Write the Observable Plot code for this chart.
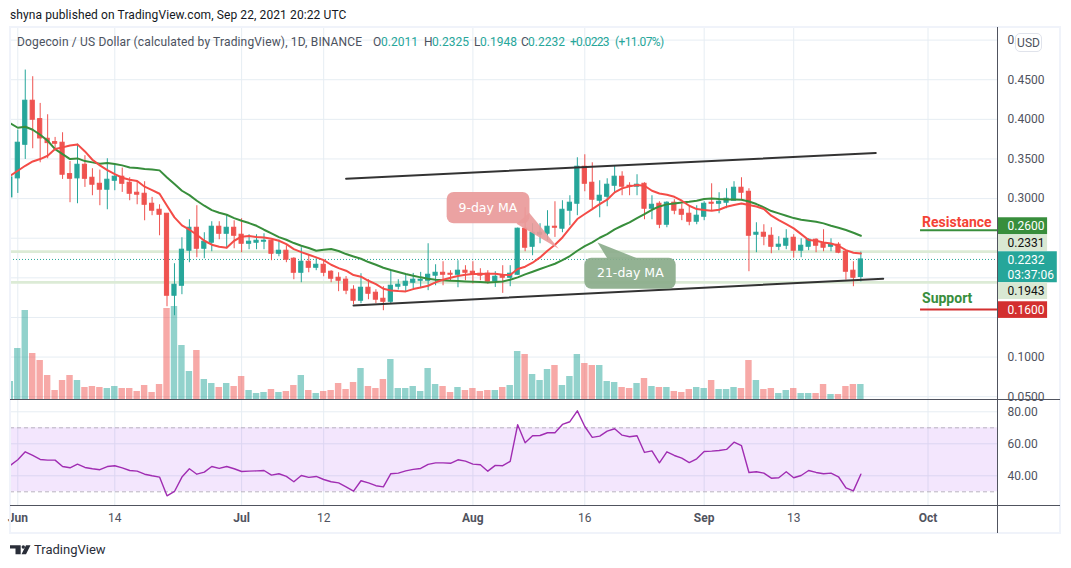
<!DOCTYPE html>
<html><head><meta charset="utf-8">
<script src="https://cdn.jsdelivr.net/npm/d3@7"></script>
<script src="https://cdn.jsdelivr.net/npm/@observablehq/plot@0.6"></script>
<style>
html,body{margin:0;padding:0;background:#fff;overflow:hidden}
#wrap{position:relative;width:1071px;height:568px;font-family:Roboto,sans-serif;font-size:12px}
#wrap svg{position:absolute;left:0;top:0;background:transparent;overflow:visible}
.txt{position:absolute;white-space:nowrap}
.ln{position:absolute;background:#50535e}
</style></head><body><div id="wrap"></div>
<script>
// ---- data; index 0 = 31 May 2021, one entry per day ----
const opens=[.3015,.3255,.3679,.4235,.4003,.3755,.3713,.3705,.3309,.3255,.3427,.3263,.3187,.3112,.3225,.3276,.3200,.3074,.3061,.2935,.2859,.2809,.1774,.1900,.2342,.2632,.2367,.2443,.2645,.2556,.2632,.2544,.2430,.2443,.2456,.2468,.2304,.2342,.2241,.2064,.2203,.2127,.2165,.2077,.2001,.1977,.1850,.1711,.1875,.1812,.1736,.1698,.1888,.1900,.1938,.1963,.1963,.2027,.2064,.2052,.2039,.2090,.2077,.2052,.2052,.1951,.2027,.2001,.2039,.2620,.2392,.2544,.2556,.2645,.2620,.2847,.2935,.3402,.3200,.2973,.3023,.3162,.3276,.3162,.3150,.3187,.2872,.2935,.2670,.2948,.2859,.2809,.2708,.2771,.2948,.2935,.2948,.2973,.3137,.3086,.2544,.2569,.2531,.2392,.2405,.2506,.2342,.2392,.2481,.2430,.2392,.2418,.2329,.2090,.2011];
const highs=[.3267,.3865,.4622,.4538,.4201,.4058,.3772,.3831,.3469,.3688,.3541,.3377,.3360,.3503,.3419,.3385,.3263,.3217,.3213,.3015,.2922,.2809,.2178,.2506,.2733,.2910,.2569,.2708,.2708,.2796,.2720,.2746,.2544,.2544,.2556,.2477,.2477,.2405,.2254,.2380,.2291,.2241,.2224,.2090,.2064,.2016,.1900,.2052,.1977,.1850,.1888,.2102,.1976,.2035,.2056,.2069,.2430,.2165,.2203,.2090,.2216,.2153,.2203,.2115,.2090,.2077,.2153,.2153,.2628,.2885,.2683,.2683,.2847,.2960,.2973,.3036,.3515,.3553,.3452,.3225,.3250,.3415,.3339,.3200,.3301,.3200,.3036,.2960,.2960,.2986,.2931,.2897,.2910,.2960,.3187,.3074,.3124,.3213,.3263,.3124,.2695,.2670,.2632,.2519,.2607,.2544,.2493,.2493,.2493,.2607,.2493,.2443,.2342,.2203,.2325];
const lows=[.3015,.3065,.3494,.3629,.3452,.3503,.3625,.3242,.2948,.2935,.3141,.3036,.2910,.2859,.3099,.3078,.2973,.2922,.2720,.2784,.2531,.1635,.1522,.1787,.2191,.2254,.2241,.2329,.2481,.2367,.2367,.2317,.2355,.2355,.2355,.2216,.2266,.2191,.1976,.1938,.2064,.2090,.2014,.1938,.1825,.1787,.1661,.1673,.1724,.1673,.1585,.1673,.1846,.1825,.1858,.1879,.1838,.1900,.1900,.1963,.1875,.1963,.1921,.1963,.1921,.1879,.1804,.1888,.2030,.2329,.2279,.2430,.2468,.2510,.2569,.2657,.2784,.3086,.2872,.2758,.2897,.3061,.3036,.3036,.3036,.2733,.2733,.2620,.2632,.2796,.2721,.2657,.2670,.2721,.2847,.2809,.2872,.2973,.2973,.2077,.2317,.2405,.2304,.2342,.2355,.2249,.2254,.2342,.2317,.2329,.2329,.2304,.1972,.1888,.1948];
const closes=[.3267,.3705,.4235,.3995,.3759,.3700,.3692,.3301,.3250,.3427,.3250,.3175,.3112,.3238,.3276,.3187,.3061,.3049,.2922,.2847,.2796,.1774,.1913,.2355,.2632,.2367,.2456,.2645,.2556,.2632,.2531,.2430,.2456,.2468,.2468,.2304,.2342,.2228,.2064,.2203,.2127,.2165,.2064,.1989,.1963,.1838,.1711,.1875,.1799,.1724,.1698,.1900,.1913,.1951,.1976,.1976,.2039,.2064,.2039,.2039,.2090,.2064,.2039,.2027,.1951,.2014,.2001,.2052,.2620,.2380,.2569,.2569,.2645,.2632,.2859,.2948,.3402,.3187,.2986,.3036,.3175,.3276,.3150,.3150,.3175,.2872,.2922,.2670,.2948,.2847,.2796,.2708,.2784,.2935,.2935,.2960,.2998,.3137,.3074,.2531,.2569,.2519,.2392,.2418,.2493,.2342,.2405,.2481,.2405,.2380,.2418,.2317,.2077,.2001,.2232];
const ma9=[.3288,.3351,.3414,.3469,.3499,.3541,.3625,.3646,.3671,.3684,.3595,.3490,.3419,.3360,.3309,.3263,.3238,.3221,.3150,.3107,.3061,.2910,.2763,.2662,.2607,.2544,.2468,.2418,.2393,.2380,.2468,.2519,.2527,.2514,.2510,.2493,.2468,.2426,.2363,.2325,.2291,.2258,.2224,.2165,.2123,.2090,.2035,.2014,.1963,.1921,.1862,.1841,.1833,.1829,.1858,.1879,.1900,.1942,.1976,.2001,.2022,.2039,.2048,.2048,.2052,.2052,.2039,.2035,.2111,.2140,.2191,.2258,.2342,.2418,.2510,.2628,.2742,.2805,.2868,.2931,.2986,.3078,.3129,.3154,.3171,.3162,.3099,.3065,.3049,.3023,.2973,.2910,.2868,.2855,.2847,.2859,.2897,.2918,.2939,.2918,.2901,.2868,.2784,.2729,.2678,.2624,.2552,.2477,.2468,.2447,.2434,.2405,.2350,.2317,.2308];
const ma21=[.3949,.3894,.3907,.3869,.3806,.3730,.3625,.3562,.3499,.3507,.3473,.3457,.3440,.3448,.3436,.3419,.3393,.3385,.3372,.3368,.3356,.3267,.3183,.3099,.3044,.2973,.2910,.2855,.2821,.2796,.2754,.2720,.2691,.2657,.2607,.2561,.2514,.2481,.2439,.2405,.2376,.2342,.2355,.2363,.2338,.2300,.2270,.2241,.2199,.2165,.2127,.2098,.2073,.2048,.2027,.2006,.1989,.1976,.1968,.1963,.1959,.1955,.1951,.1947,.1942,.1947,.1955,.1976,.2006,.2043,.2077,.2111,.2144,.2178,.2224,.2275,.2342,.2401,.2447,.2506,.2552,.2611,.2657,.2699,.2754,.2805,.2859,.2901,.2927,.2939,.2952,.2960,.2973,.2994,.3002,.2994,.2990,.2990,.2986,.2964,.2931,.2889,.2843,.2813,.2784,.2754,.2733,.2721,.2708,.2687,.2657,.2632,.2603,.2569,.2531];
const volumes=[18,51,89,46,39,24,9,19,24,19,12,13,12,11,13,11,11,8,14,7,15,91,93,54,28,49,20,16,12,16,13,23,9,6,7,10,7,8,14,24,9,6,8,9,16,10,17,31,13,11,20,40,11,11,13,8,31,15,13,7,12,9,11,8,9,9,12,14,48,45,25,19,30,34,14,23,45,36,34,34,18,17,12,11,16,21,13,12,12,8,7,10,12,11,19,10,10,12,11,39,19,10,11,6,9,11,6,6,6,15,5,5,13,15,15];
const rsi=[46.5,50,55,52.7,50.2,49.8,49.8,45.8,45,47.3,45.2,44.4,43.8,45.8,46.3,45,43.3,42.9,41,40,39.2,27.5,30.2,39.2,44.4,41,42.3,45.8,44.6,45.8,44.4,42.7,42.9,43.1,43.3,40.4,41.3,39.6,36.3,40.2,39,39.6,37.7,36.3,35.6,33.1,30.4,36.9,35.6,33.8,33.1,41.3,41.7,43.1,44,44.6,47.1,48.1,48.1,47.8,50,49.2,47.3,46.9,42.9,46.5,46.3,49,71.9,60.6,65,65.2,66.9,66.9,72.1,73.8,80.6,70.8,64,64.8,67.9,69.4,65.4,64.4,65,54.6,55.6,48.1,55,52.7,51,48.3,50.6,55.2,55.4,55.8,56.5,61,58.8,42.1,42.5,41.7,38.5,38.8,42.5,38.8,40.2,43.3,42.1,41.3,41.7,39.4,32.5,30.6,41];
const priceGrid=[.5,.45,.4,.35,.3,.25,.2,.15,.1,.05];
const priceLabels=[.45,.4,.35,.3,.1,.05];
const rsiTicks=[40,60,80];
const dayLabels=[["2021-06-14","14"],["2021-07-12","12"],["2021-08-16","16"],["2021-09-13","13"]];
const monthLabels=[["2021-06-01","Jun"],["2021-07-01","Jul"],["2021-08-01","Aug"],["2021-09-01","Sep"],["2021-10-01","Oct"]];
const priceLevels=[.2331,.1943];
const lastClose=.2232;
const upperChannel=[["2021-07-15",.3251],["2021-09-24",.3575]];
const lowerChannel=[["2021-07-16",.1652],["2021-09-25",.1989]];
const levelLabels=[{text:"Resistance",level:.26,ty:.2699,tc:"#f44336",lc:"#388e3c"},{text:"Support",level:.16,ty:.1745,tc:"#388e3c",lc:"#d32f2f"}];
const tags=[
 {t:.2758,b:.2544,w:6.7,fill:"#388e3c",texts:[["0.2600",.2651,"#fff"]]},
 {t:.2535,b:.2333,w:6.7,fill:"#d9e8d3",texts:[["0.2331",.2434,"#111"]]},
 {t:.2329,b:.1938,w:8.0,fill:"#26a69a",texts:[["0.2232",.2228,"#fff"],["03:37:06",.2039,"#fff"]]},
 {t:.1938,b:.1727,w:6.7,fill:"#d9e8d3",texts:[["0.1943",.1832,"#111"]]},
 {t:.1698,b:.1488,w:6.7,fill:"#d32f2f",texts:[["0.1600",.1592,"#fff"]]}];

// ---- shared scale ----
const D0=Date.UTC(2021,5,1);
const D=d=>new Date(D0+d*864e5);               // d = days since 1 June
const days=opens.map((_,i)=>i-1);
const xScale={type:"utc",domain:[D(0),D(122)],range:[17.3,927.5]};
const allTicks=[...dayLabels,...monthLabels].map(a=>new Date(a[0]));
const GRID="#e6edf3", UP="#26a69a", DOWN="#ef5350", AXIS="#50535e";
const FONT="Roboto,sans-serif";
const AX=131.33; // day of the price axis
const candles=days.map((d,i)=>({d,o:opens[i],h:highs[i],l:lows[i],c:closes[i],col:closes[i]>=opens[i]?UP:DOWN,v:volumes[i]}));
const wrap=document.getElementById("wrap");
const base={width:1071,height:568,marginLeft:10,marginRight:74,style:{fontFamily:FONT,fontSize:"12px",background:"transparent"}};
const cfg={clip:true};

// ---- price pane ----
const priceTexts=tags.flatMap(t=>t.texts.map(x=>({s:x[0],y:x[1],f:x[2]})));
const pricePlot=Plot.plot({...base,marginTop:27,marginBottom:169,
 x:{...xScale,axis:null},
 y:{domain:[.05,.5],range:[396.2,39.6],axis:null},
 marks:[
  Plot.gridX(allTicks,{stroke:GRID,strokeOpacity:1}),
  Plot.gridY(priceGrid,{stroke:GRID,strokeOpacity:1}),
  Plot.ruleY(priceLevels,{stroke:"#dcebd6",strokeWidth:2.6}),
  Plot.ruleY([lastClose],{stroke:UP,strokeDasharray:"1 2",strokeWidth:1}),
  Plot.axisY(priceLabels,{anchor:"right",tickSize:0,tickPadding:10,tickFormat:d3.format(".4f"),fill:AXIS,label:null,fontSize:12}),
  Plot.text(["0."],{x:D(AX+1.34),y:.5,fill:AXIS,textAnchor:"start",fontSize:12}),
  Plot.ruleX(candles,{x:d=>D(d.d),y1:"l",y2:"h",stroke:"col",strokeWidth:1,...cfg}),
  Plot.rect(candles,{x1:d=>D(d.d-.28),x2:d=>D(d.d+.28),y1:"o",y2:"c",fill:"col",stroke:"col",strokeWidth:1,...cfg}),
  Plot.line(upperChannel,{x:d=>new Date(d[0]),y:d=>d[1],stroke:"#333",strokeWidth:2}),
  Plot.line(lowerChannel,{x:d=>new Date(d[0]),y:d=>d[1],stroke:"#333",strokeWidth:2}),
  Plot.line(ma21,{x:(_,i)=>D(i-1),y:d=>d,stroke:"#388e3c",strokeWidth:2,...cfg}),
  Plot.line(ma9,{x:(_,i)=>D(i-1),y:d=>d,stroke:"#f44c47",strokeWidth:2,...cfg}),
  // callouts
  Plot.line([[D(68.55),.2822],[D(72.5),.2367],[D(66.85),.2683]],{x:"0",y:"1",fill:"#e99a9a",stroke:null,fillOpacity:.9}),
  Plot.rect([0],{x1:D(57.55),x2:D(68.65),y1:.2683,y2:.3078,fill:"#e99a9a",rx:7,fillOpacity:.92}),
  Plot.text(["9-day MA"],{x:D(63),y:.2880,fill:"#fff",fontSize:12.5,fontFamily:"DejaVu Sans"}),
  Plot.line([[D(77.7),.2447],[D(83),.2247],[D(79),.2247]],{x:"0",y:"1",fill:"#8aab8a",stroke:null,fillOpacity:.9}),
  Plot.rect([0],{x1:D(76),x2:D(88.25),y1:.1856,y2:.2247,fill:"#8aab8a",rx:7,fillOpacity:.92}),
  Plot.text(["21-day MA"],{x:D(82.1),y:.2058,fill:"#fff",fontSize:12.5,fontFamily:"DejaVu Sans"}),
  // support / resistance
  Plot.ruleY(levelLabels,{y:"level",x1:D(121),x2:D(AX),stroke:"lc",strokeWidth:2}),
  Plot.text(levelLabels,{x:D(121.2),y:"ty",text:"text",fill:"tc",fontWeight:"bold",fontSize:14,textAnchor:"start"}),
  // price tags
  Plot.rect(tags,{x1:D(AX),x2:d=>D(AX+d.w),y1:"b",y2:"t",fill:"fill"}),
  Plot.text(priceTexts,{x:D(AX+1.34),y:"y",text:"s",fill:"f",textAnchor:"start",fontSize:12})
 ]});

// ---- volume pane ----
const volPlot=Plot.plot({...base,marginTop:300,marginBottom:169,
 x:{...xScale,axis:null},
 y:{domain:[0,100],range:[399,299],axis:null},
 marks:[Plot.rect(candles,{x1:d=>D(d.d-.43),x2:d=>D(d.d+.43),y1:0,y2:"v",fill:"col",fillOpacity:.5,...cfg})]});

// ---- RSI pane ----
const rsiPlot=Plot.plot({...base,marginTop:400,marginBottom:63,
 x:{...xScale,axis:null},
 y:{domain:[30,70],range:[491.3,427.3],axis:null},
 marks:[
  Plot.frame({fill:"#fff",stroke:null}),
  Plot.gridX(allTicks,{stroke:GRID,strokeOpacity:1}),
  Plot.gridY(rsiTicks,{stroke:GRID,strokeOpacity:1}),
  Plot.rect([0],{x1:D(-1.3),x2:D(AX),y1:30,y2:70,fill:"rgb(135,5,235)",fillOpacity:.1,...cfg}),
  Plot.ruleY([30,70],{stroke:"#b9b3c0",strokeDasharray:"4 3"}),
  Plot.line(rsi,{x:(_,i)=>D(i-1),y:d=>d,stroke:"#a02db2",strokeWidth:1.4,...cfg}),
  Plot.axisY(rsiTicks,{anchor:"right",tickSize:0,tickPadding:10,tickFormat:d3.format(".2f"),fill:AXIS,label:null,fontSize:12}),
  Plot.axisX(dayLabels.map(a=>new Date(a[0])),{anchor:"bottom",tickSize:0,tickPadding:8,fill:AXIS,label:null,fontSize:12,tickFormat:d=>d3.utcFormat("%d")(d)}),
  Plot.axisX(monthLabels.map(a=>new Date(a[0])),{anchor:"bottom",tickSize:0,tickPadding:8,fill:AXIS,label:null,fontSize:12,fontWeight:"bold",tickFormat:d=>d3.utcFormat("%b")(d)})
 ]});
wrap.append(pricePlot,volPlot,rsiPlot);

// ---- page chrome ----
function txt(s,x,y,o={}){const e=document.createElement("div");e.className="txt";e.textContent=s;
 Object.assign(e.style,{left:x+"px",top:y+"px",lineHeight:"14px",color:"#4c525e",...o});wrap.append(e);return e}
function line(x,y,w,h,c){const e=document.createElement("div");e.className="ln";
 Object.assign(e.style,{left:x+"px",top:y+"px",width:w+"px",height:h+"px"});if(c)e.style.background=c;wrap.append(e)}
line(9,26,1052,2,"#f0f3fa");line(9,532,1052,2,"#f0f3fa");line(9,26,2,508,"#f0f3fa");line(1059,26,2,508,"#f0f3fa");
line(997,27,1,506);line(10,399,1050,1);line(10,505,1050,1);
txt("shyna published on TradingView.com, Sep 22, 2021 20:22 UTC",10,8,{color:"#131722",letterSpacing:".1px"});
txt("Dogecoin / US Dollar (calculated by TradingView), 1D, BINANCE",17,35,{letterSpacing:".15px"});
const legend=[["O",373],["0.2011",381],["H",424],["0.2325",432],["L",474],["0.1948",480],["C",521],["0.2232",528]];
legend.forEach(([s,x])=>txt(s,x,35,{color:/^[OHLC]$/.test(s)?"#4c525e":"#26a69a"}));
txt("+0.0223",570,35,{color:"#26a69a",letterSpacing:"-.7px"});
txt("(+11.07%)",615,35,{color:"#26a69a",letterSpacing:"-.6px"});
txt("USD",1015,33,{background:"#fff",border:"1px solid #e0e3eb",borderRadius:"5px",fontSize:"12px",width:"27px",height:"19px",lineHeight:"19px",textAlign:"center",boxSizing:"border-box"});
// TradingView logo
wrap.insertAdjacentHTML("beforeend",`<svg width="24" height="14" viewBox="0 0 24 14" style="left:10px;top:543px"><path fill="#2a2e39" d="M0 2.3h10.7v9H5.5V5.5H0zM16 2.3h4.5l-4.5 9h-4.5z"/><circle fill="#2a2e39" cx="13.3" cy="4" r="1.7"/></svg>`);
txt("TradingView",34,543,{color:"#2a2e39",fontSize:"13px"});
</script></body></html>
